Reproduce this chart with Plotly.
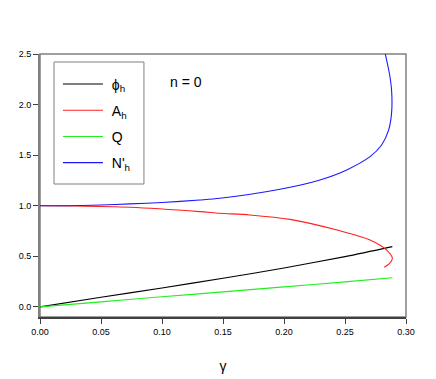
import plotly.graph_objects as go

# Data
gamma_phi = [0.0, 0.05, 0.10, 0.15, 0.20, 0.25, 0.2888]
phi_h = [0.0, 0.095, 0.187, 0.283, 0.385, 0.497, 0.596]

gamma_A = [0.0, 0.03, 0.074, 0.131, 0.1475, 0.172, 0.205, 0.246, 0.2705, 0.284, 0.2888, 0.2865, 0.2822]
A_h = [1.0, 0.998, 0.985, 0.942, 0.926, 0.909, 0.865, 0.752, 0.662, 0.563, 0.48, 0.43, 0.392]

gamma_Q = [0.0, 0.05, 0.10, 0.15, 0.20, 0.25, 0.2888]
Q = [0.0, 0.05, 0.10, 0.148, 0.198, 0.247, 0.288]

gamma_N = [0.0, 0.02, 0.05, 0.0738, 0.10, 0.131, 0.1475, 0.1967, 0.2295, 0.2514, 0.2705, 0.2800, 0.2858, 0.2882, 0.2882, 0.2865, 0.283]
N_h = [1.0, 1.0, 1.007, 1.018, 1.032, 1.057, 1.074, 1.163, 1.255, 1.354, 1.485, 1.6, 1.75, 1.92, 2.14, 2.3, 2.5]

x_ticks = [0.0, 0.05, 0.10, 0.15, 0.20, 0.25, 0.30]
y_ticks = [0.0, 0.5, 1.0, 1.5, 2.0, 2.5]

series = [
    ("&nbsp;ϕ<sub>h</sub>", gamma_phi, phi_h, "#000000"),
    ("&nbsp;A<sub>h</sub>", gamma_A, A_h, "#ff2020"),
    ("&nbsp;Q", gamma_Q, Q, "#22ee22"),
    ("&nbsp;N'<sub>h</sub>", gamma_N, N_h, "#1a1aff"),
]

fig = go.Figure()
for i, (name, xs, ys, col) in enumerate(series):
    fig.add_trace(go.Scatter(x=xs, y=ys, mode="lines", name=name,
                             line=dict(color=col, width=1.1, shape="spline", smoothing=0.8),
                             legendgroup=f"g{i}"))

font_family = "Liberation Sans, Arial, sans-serif"

fig.update_layout(
    width=436, height=379,
    margin=dict(l=40, r=30, t=54, b=62),
    paper_bgcolor="white", plot_bgcolor="white",
    font=dict(family=font_family, color="black"),
    showlegend=True,
    legend=dict(x=0.049, y=0.945, xanchor="left", yanchor="top",
                borderwidth=0, bgcolor="rgba(0,0,0,0)",
                font=dict(size=14, family=font_family),
                tracegroupgap=5, itemwidth=40),
    xaxis=dict(range=[0, 0.30], tickvals=x_ticks, tickformat=".2f",
               showgrid=False, zeroline=False, showline=True,
               linecolor="#404040", linewidth=1.5,
               ticks="outside", ticklen=5, tickcolor="#404040",
               tickfont=dict(size=9), automargin=False,
               title=dict(text="γ", font=dict(size=14), standoff=26)),
    yaxis=dict(range=[-0.1, 2.5], tickvals=y_ticks, tickformat=".1f",
               showgrid=False, zeroline=False, showline=True,
               linecolor="#808080", linewidth=2,
               ticks="outside", ticklen=5, tickcolor="#404040",
               tickfont=dict(size=9), automargin=False),
    shapes=[
        dict(type="rect", xref="paper", yref="paper", x0=0, y0=0, x1=1, y1=1,
             line=dict(color="#808080", width=1.5), layer="below"),
        dict(type="rect", xref="paper", yref="paper", x0=0.0383, y0=0.5057, x1=0.284, y1=0.9696,
             line=dict(color="#808080", width=1), fillcolor="rgba(0,0,0,0)", layer="below"),
    ],
    annotations=[dict(text="n = 0", x=0.40, y=0.895, xref="paper", yref="paper",
                      showarrow=False, font=dict(size=14), xanchor="center", yanchor="middle")],
)

fig.write_html("out.html", post_script="document.body.style.margin='0';",
               config={"displayModeBar": False})
